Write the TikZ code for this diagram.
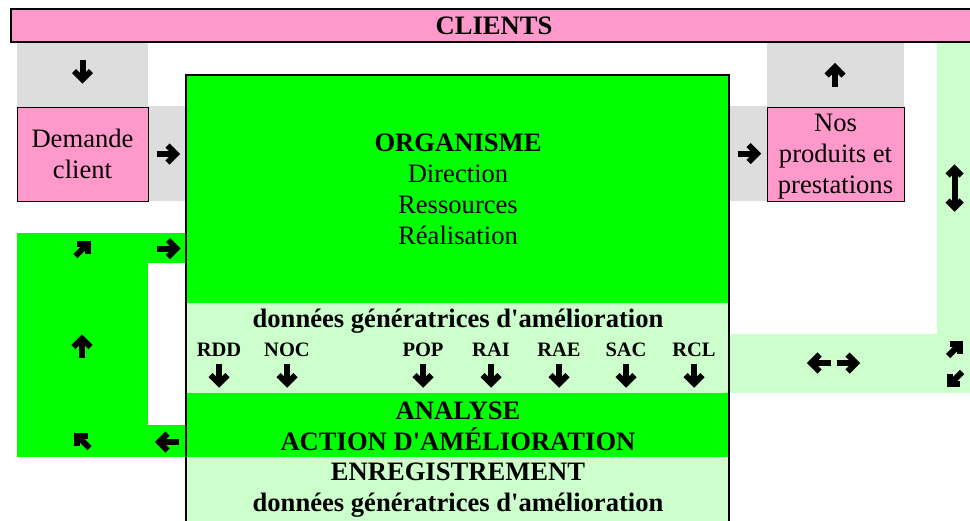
\documentclass[tikz,border=0pt]{standalone}
\usepackage{fontspec}
\setmainfont{Liberation Serif}
\usepackage{tikz}
\definecolor{rose}{HTML}{FF99CC}
\definecolor{gris}{HTML}{DDDDDD}
\definecolor{vert}{HTML}{00FF00}
\definecolor{vertclair}{HTML}{CCFFCC}
\newcommand\grand{\fontsize{26.6}{31}\selectfont}
\newcommand\petit{\fontsize{20.5}{24}\selectfont\bfseries}
\newcommand\apos{\textquotesingle}
\tikzset{
  boite/.style={draw, line width=1pt, fill=rose, inner sep=0pt, align=center, font=\grand},
  texte/.style={inner sep=0pt, align=center, font=\grand},
  fleche/.pic={
    \draw[line width=6pt] (-11,0) -- (5,0);
    \draw[line width=6pt, miter limit=10] (0,-8.5) -- (8.5,0) -- (0,8.5);
  },
  doublefleche/.pic={
    \draw[line width=6pt] (-17,0) -- (17,0);
    \draw[line width=6pt, miter limit=10] (12.5,-7) -- (19.5,0) -- (12.5,7);
    \draw[line width=6pt, miter limit=10] (-12.5,-7) -- (-19.5,0) -- (-12.5,7);
  }
}

\begin{document}
\begin{tikzpicture}[x=1pt, y=-1pt]
      \useasboundingbox (0,0) rectangle (970,520);
      \clip (0,0) rectangle (970,520);
      \fill[gris] (17,42) rectangle (148,107);
      \fill[gris] (148,106) rectangle (186,201);
      \fill[gris] (729,106) rectangle (767,201);
      \fill[gris] (767,42) rectangle (904,107);
      \fill[vert] (17,233) rectangle (186,457);
      \fill[white] (148,263) rectangle (186,425);
      \fill[vertclair] (937,42) rectangle (975,393);
      \fill[vertclair] (729,334) rectangle (975,393);
      \fill[vert] (186,75) rectangle (729,303);
      \fill[vertclair] (186,303) rectangle (729,393);
      \fill[vert] (186,393) rectangle (729,457);
      \fill[vertclair] (186,457) rectangle (729,530);
      \draw[line width=2pt] (186,530) |- (729,75) -- (729,530);
      \node[boite, line width=2pt, minimum width=967pt, minimum height=32.5pt, font=\grand\bfseries] (clients) at (494,25.4) {CLIENTS};
      \node[boite, minimum width=131pt, minimum height=94pt] (demande) at (82.5,154) {Demande\\client};
      \node[boite, minimum width=137pt, minimum height=94pt, text depth=0pt] (produits) at (835.5,154) {Nos\\produits et\\prestations};
      \node[texte] (organisme) at (458,189.4) {\textbf{ORGANISME}\\Direction\\Ressources\\Réalisation};
      \node[texte, font=\grand\bfseries] (donnees) at (458,320.7) {données génératrices d\apos amélioration};
      \node[texte, font=\grand\bfseries] (analyse) at (458,426.7) {ANALYSE\\ACTION D\apos AMÉLIORATION};
      \node[texte, font=\grand\bfseries] (enregistrement) at (458,490.6) {ENREGISTREMENT\\données génératrices d\apos amélioration};
      \foreach \x/\code in {219/RDD, 287/NOC, 423/POP, 491/RAI, 559/RAE, 626/SAC, 694/RCL} {
        \node[texte, font=\petit] (\code) at (\x,350.2) {\code};
        \pic[rotate=-90] at (\x,375) {fleche};
      }
      \pic[rotate=-90] at (82.5,71) {fleche};
      \pic at (167.5,154) {fleche};
      \pic at (748.5,153.5) {fleche};
      \pic[rotate=90] at (835,75.5) {fleche};
      \pic[rotate=45, scale=0.9] at (82.5,249) {fleche};
      \pic at (168,248.5) {fleche};
      \pic[rotate=90] at (82,347) {fleche};
      \pic[rotate=135, scale=0.9] at (82.5,441) {fleche};
      \pic[rotate=180] at (167.5,442) {fleche};
      \pic[rotate=180] at (819.5,363) {fleche};
      \pic at (847.5,363) {fleche};
      \pic[rotate=90] at (954.5,188) {doublefleche};
      \pic[rotate=45, scale=0.9] at (955,349) {fleche};
      \pic[rotate=-135, scale=0.9] at (955,379) {fleche};
    \end{tikzpicture}
\end{document}
